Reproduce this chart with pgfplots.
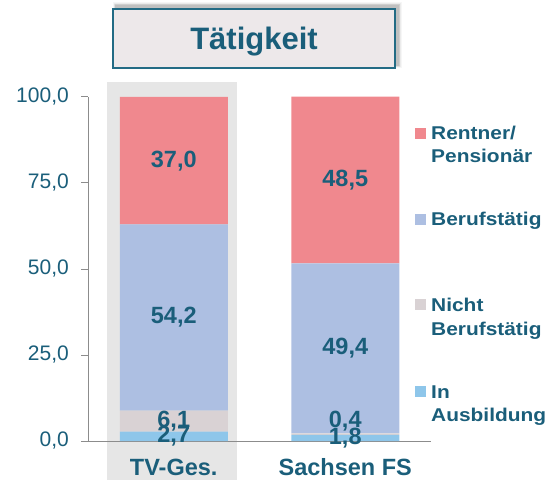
\documentclass[border=0pt]{standalone}
\usepackage{pgfplots}
\pgfplotsset{compat=1.18}
\usepackage{fontspec}
\setmainfont{Liberation Sans}
\definecolor{teal1}{HTML}{1A5E7A}
\definecolor{boxline}{HTML}{236B85}
\definecolor{boxfill}{HTML}{EDE8EA}
\definecolor{cRent}{HTML}{F0888E}
\definecolor{cBeruf}{HTML}{ADBFE2}
\definecolor{cNicht}{HTML}{D9D2D4}
\definecolor{cAus}{HTML}{8EC6EA}
\definecolor{bggray}{HTML}{E6E6E6}
\definecolor{axgray}{HTML}{8C8C8C}
\newcommand{\lgfont}{\fontsize{18.5}{22}\selectfont\bfseries}
\newcommand{\legtext}[1]{\scalebox{1.13}[1]{\lgfont #1}}
\begin{document}
\begin{tikzpicture}[x=1pt,y=1pt]
\useasboundingbox (0,0) rectangle (557,480);
% background behind first bar
\fill[bggray] (107,0) rectangle (237,398);
% title box with soft shadow
\foreach \i/\o in {5/0.035,4/0.045,3/0.055,2/0.065,1/0.075}{
  \fill[black,opacity=\o] (113+3-\i*0.6,412+3-\i*0.6) rectangle (395+3+\i*0.8,471+3+\i*0.8);
}
\fill[boxfill] (113,412) rectangle (395,471);
\draw[boxline,line width=1.6pt] (113,412) rectangle (395,471);
\node[anchor=base,text=teal1,font=\fontsize{31}{36}\selectfont\bfseries,inner sep=0pt] at (254,430) {Tätigkeit};

\begin{axis}[
  at={(88pt,39pt)}, anchor=south west,
  scale only axis, width=343pt, height=344pt,
  xmin=-0.5, xmax=1.5, ymin=0, ymax=100,
  ybar stacked, bar width=108pt,
  axis x line*=bottom, axis y line*=left,
  axis line style={draw=axgray, line width=1pt},
  xtick={0,1}, xticklabels={TV-Ges., Sachsen FS},
  xtick style={draw=none},
  x tick label style={anchor=base, inner sep=0pt, yshift=-27pt,
     font=\fontsize{23.5}{28}\selectfont\bfseries, text=teal1},
  ytick={0,25,50,75,100},
  ytick style={draw=axgray, line width=1pt},
  tick align=outside, major tick length=7pt,
  y tick label style={anchor=east, inner sep=0pt, xshift=-12pt, font=\fontsize{21}{25}\selectfont, text=teal1},
  /pgf/number format/.cd, fixed, fixed zerofill, precision=1, use comma, assume math mode=true,
  /pgfplots/.cd,
  clip=false,
]
\addplot[fill=cAus, draw=none] coordinates {(0,2.7) (1,1.8)};
\addplot[fill=cNicht, draw=none] coordinates {(0,6.1) (1,0.4)};
\addplot[fill=cBeruf, draw=none] coordinates {(0,54.2) (1,49.4)};
\addplot[fill=cRent, draw=none] coordinates {(0,37.0) (1,48.5)};
\end{axis}

\begin{axis}[
  at={(88pt,39pt)}, anchor=south west,
  scale only axis, width=343pt, height=344pt,
  xmin=-0.5, xmax=1.5, ymin=0, ymax=100,
  axis lines=none, clip=false,
]
\addplot[only marks, mark=none, nodes near coords, point meta=explicit symbolic,
  every node near coord/.style={anchor=center, inner sep=0pt,
    font=\fontsize{23.5}{28}\selectfont\bfseries, text=teal1}]
  coordinates {(0,1.35)[2,7] (0,5.9)[6,1] (0,35.9)[54,2] (0,81.4)[37,0]
               (1,0.9)[1,8] (1,5.9)[0,4] (1,26.9)[49,4] (1,75.85)[48,5]};
\end{axis}

% legend
\fill[cRent]  (415,480-139) rectangle (426,480-128);
\fill[cBeruf] (415,480-225) rectangle (426,480-214);
\fill[cNicht] (415,480-310) rectangle (426,480-299);
\fill[cAus]   (415,480-397) rectangle (426,480-386);
\begin{scope}[every node/.style={anchor=base west, inner sep=0pt, text=teal1}]
\node at (431,480-140) {\legtext{Rentner/}};
\node at (431,480-163) {\legtext{Pensionär}};
\node at (431,480-226) {\legtext{Berufstätig}};
\node at (431,480-311) {\legtext{Nicht}};
\node at (431,480-335) {\legtext{Berufstätig}};
\node at (431,480-398) {\legtext{In}};
\node at (431,480-421) {\legtext{Ausbildung}};
\end{scope}
\end{tikzpicture}
\end{document}
